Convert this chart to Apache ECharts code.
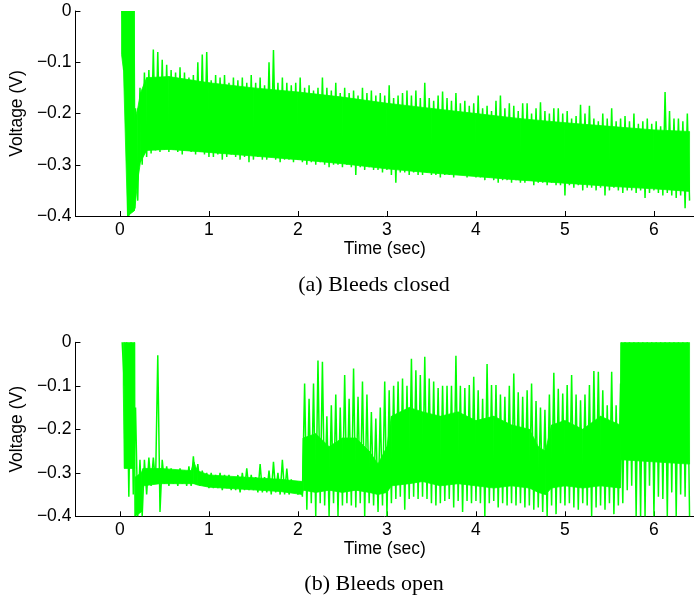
<!DOCTYPE html>
<html><head><meta charset="utf-8">
<script src="https://cdn.jsdelivr.net/npm/echarts@6/dist/echarts.min.js"></script>
<style>html,body{margin:0;padding:0;background:#fff}#c{width:694px;height:601px}</style>
</head><body><div id="c"></div>
<script>
// tick values
const xTicks = [0, 1, 2, 3, 4, 5, 6];
// bins: max/min of the signal read per 0.05 s (start 0.025 s)
const binStart = 0.025, binStep = 0.05;

// (a) Bleeds closed
const hiA = [0, 0, 0, -0.19, -0.15, -0.12, -0.115, -0.075, -0.08, -0.095,
 -0.105, -0.115, -0.12, -0.11, -0.12, -0.13, -0.125, -0.10, -0.085, -0.08,
 -0.135, -0.125, -0.13, -0.125, -0.14, -0.13, -0.135, -0.13, -0.14, -0.125,
 -0.14, -0.13, -0.145, -0.10, -0.076, -0.14, -0.13, -0.14, -0.145, -0.14,
 -0.13, -0.15, -0.145, -0.155, -0.15, -0.13, -0.15, -0.155, -0.14, -0.16,
 -0.15, -0.16, -0.155, -0.165, -0.15, -0.16, -0.155, -0.165, -0.16, -0.165,
 -0.145, -0.17, -0.165, -0.16, -0.155, -0.165, -0.155, -0.17, -0.14, -0.17,
 -0.175, -0.165, -0.157, -0.17, -0.175, -0.16, -0.18, -0.175, -0.185, -0.18,
 -0.165, -0.19, -0.185, -0.195, -0.175, -0.165, -0.19, -0.18, -0.185, -0.195,
 -0.18, -0.18, -0.2, -0.19, -0.178, -0.195, -0.2, -0.19, -0.19, -0.2,
 -0.195, -0.21, -0.205, -0.183, -0.2, -0.185, -0.21, -0.215, -0.2, -0.21,
 -0.19, -0.215, -0.21, -0.205, -0.215, -0.2, -0.22, -0.215, -0.21, -0.22,
 -0.215, -0.225, -0.158, -0.195, -0.21, -0.21, -0.215, -0.2];
const loA = [-0.10, -0.40, -0.39, -0.37, -0.30, -0.285, -0.278, -0.272, -0.275, -0.27,
 -0.275, -0.27, -0.275, -0.28, -0.27, -0.275, -0.28, -0.275, -0.28, -0.285,
 -0.285, -0.28, -0.29, -0.285, -0.28, -0.285, -0.29, -0.285, -0.295, -0.29,
 -0.285, -0.29, -0.29, -0.285, -0.29, -0.295, -0.29, -0.29, -0.295, -0.29,
 -0.295, -0.3, -0.295, -0.3, -0.295, -0.3, -0.305, -0.3, -0.3, -0.305,
 -0.30, -0.305, -0.32, -0.305, -0.31, -0.305, -0.31, -0.31, -0.315, -0.31,
 -0.32, -0.335, -0.315, -0.315, -0.32, -0.315, -0.32, -0.32, -0.315, -0.32,
 -0.32, -0.325, -0.32, -0.32, -0.325, -0.32, -0.32, -0.325, -0.32, -0.325,
 -0.325, -0.33, -0.325, -0.33, -0.335, -0.33, -0.33, -0.335, -0.33, -0.335,
 -0.335, -0.33, -0.34, -0.335, -0.335, -0.34, -0.335, -0.34, -0.34, -0.36,
 -0.34, -0.345, -0.34, -0.35, -0.345, -0.345, -0.35, -0.345, -0.36, -0.35,
 -0.345, -0.35, -0.355, -0.35, -0.35, -0.355, -0.35, -0.365, -0.355, -0.35,
 -0.355, -0.36, -0.355, -0.36, -0.365, -0.36, -0.385, -0.37];
// dense core of (a)
const coreTA = [0.018, 0.04, 0.085, 0.16, 0.168, 0.2, 0.23, 0.3, 0.55, 1.0, 1.5, 2.0, 2.5, 3.0, 3.5, 4.0, 4.5, 5.0, 5.5, 6.0, 6.4];
const coreHiA = [0, 0, 0, 0, -0.21, -0.19, -0.16, -0.13, -0.128, -0.14, -0.15, -0.158, -0.168, -0.18, -0.19, -0.2, -0.21, -0.218, -0.225, -0.232, -0.235];
const coreLoA = [-0.085, -0.116, -0.40, -0.39, -0.385, -0.33, -0.295, -0.272, -0.27, -0.276, -0.283, -0.29, -0.298, -0.308, -0.316, -0.323, -0.33, -0.336, -0.342, -0.347, -0.352];

// (b) Bleeds open
const hiB = [0, 0, 0, -0.15, -0.27, -0.27, -0.265, -0.265, -0.03, -0.27,
 -0.285, -0.29, -0.295, -0.29, -0.295, -0.285, -0.262, -0.28, -0.295, -0.30,
 -0.30, -0.305, -0.30, -0.305, -0.305, -0.31, -0.305, -0.30, -0.29, -0.305,
 -0.31, -0.28, -0.31, -0.295, -0.275, -0.30, -0.27, -0.29, -0.315, -0.32,
 -0.32, -0.095, -0.13, -0.095, -0.042, -0.045, -0.17, -0.145, -0.12, -0.15,
 -0.075, -0.13, -0.06, -0.125, -0.09, -0.12, -0.16, -0.175, -0.15, -0.09,
 -0.11, -0.10, -0.09, -0.083, -0.10, -0.038, -0.064, -0.075, -0.033, -0.083,
 -0.09, -0.105, -0.10, -0.10, -0.10, -0.031, -0.10, -0.105, -0.098, -0.079,
 -0.11, -0.13, -0.05, -0.098, -0.098, -0.12, -0.125, -0.10, -0.072, -0.115,
 -0.125, -0.11, -0.095, -0.135, -0.15, -0.155, -0.12, -0.07, -0.107, -0.118,
 -0.098, -0.075, -0.12, -0.133, -0.12, -0.098, -0.066, -0.068, -0.11, -0.145,
 -0.068, -0.145, -0.095, 0, 0, 0, 0, 0, 0, 0,
 0, 0, 0, 0, 0, 0, 0, 0];
const loB = [-0.10, -0.355, -0.35, -0.40, -0.40, -0.35, -0.33, -0.325, -0.39, -0.325,
 -0.33, -0.325, -0.33, -0.325, -0.33, -0.33, -0.325, -0.33, -0.33, -0.335,
 -0.335, -0.335, -0.34, -0.335, -0.34, -0.34, -0.345, -0.34, -0.34, -0.34,
 -0.345, -0.345, -0.345, -0.35, -0.345, -0.35, -0.35, -0.35, -0.345, -0.35,
 -0.355, -0.385, -0.37, -0.40, -0.37, -0.375, -0.40, -0.37, -0.40, -0.375,
 -0.37, -0.375, -0.38, -0.37, -0.40, -0.37, -0.375, -0.39, -0.375, -0.40,
 -0.37, -0.36, -0.355, -0.385, -0.36, -0.355, -0.36, -0.355, -0.36, -0.37,
 -0.375, -0.37, -0.365, -0.36, -0.38, -0.365, -0.39, -0.365, -0.37, -0.365,
 -0.37, -0.40, -0.37, -0.365, -0.38, -0.37, -0.375, -0.37, -0.375, -0.37,
 -0.38, -0.375, -0.385, -0.38, -0.39, -0.40, -0.375, -0.395, -0.37, -0.375,
 -0.37, -0.38, -0.385, -0.37, -0.375, -0.40, -0.38, -0.375, -0.385, -0.37,
 -0.395, -0.375, -0.37, -0.34, -0.33, -0.40, -0.40, -0.40, -0.33, -0.40,
 -0.355, -0.36, -0.40, -0.345, -0.40, -0.35, -0.355, -0.40];
// dense core of (b)
const coreTB = [0.037, 0.05, 0.165, 0.17, 0.24, 0.26, 0.45, 0.8, 0.83, 0.87,
 1.0, 1.4, 1.8, 2.05, 2.06, 2.2, 2.35, 2.5, 2.65, 2.8,
 2.9, 3.0, 3.05, 3.25, 3.4, 3.6, 3.8, 4.0, 4.2, 4.4,
 4.6, 4.7, 4.78, 4.85, 5.0, 5.2, 5.4, 5.62, 5.63, 6.4];
const coreHiB = [0, 0, 0, -0.31, -0.30, -0.29, -0.29, -0.295, -0.275, -0.295,
 -0.305, -0.31, -0.315, -0.32, -0.22, -0.21, -0.24, -0.22, -0.22, -0.25,
 -0.28, -0.24, -0.17, -0.15, -0.16, -0.17, -0.16, -0.18, -0.17, -0.19,
 -0.20, -0.24, -0.25, -0.19, -0.18, -0.20, -0.17, -0.19, 0, 0];
const coreLoB = [-0.10, -0.29, -0.29, -0.40, -0.39, -0.33, -0.325, -0.325, -0.325, -0.328,
 -0.333, -0.338, -0.343, -0.35, -0.34, -0.345, -0.34, -0.345, -0.34, -0.345,
 -0.35, -0.345, -0.33, -0.325, -0.32, -0.33, -0.325, -0.33, -0.335, -0.33,
 -0.335, -0.345, -0.35, -0.335, -0.33, -0.335, -0.33, -0.335, -0.27, -0.28];

const GREEN = '#00ff00';
const SANS = '"Liberation Sans", Arial, sans-serif';

function zig(hi, lo) {
  const d = [];
  for (let i = 0; i < hi.length; i++) {
    const t = binStart + i * binStep;
    d.push([t, hi[i]]);
    d.push([t + binStep / 2, lo[i]]);
  }
  return d;
}

function bandSeries(idx, t, hi, lo) {
  const data = [];
  for (let i = 0; i < t.length - 1; i++) data.push([t[i], hi[i], lo[i], t[i + 1], hi[i + 1], lo[i + 1]]);
  return {
    type: 'custom', xAxisIndex: idx, yAxisIndex: idx, clip: true, silent: true, z: 2,
    encode: { x: [0, 3], y: [1, 2, 4, 5] },
    renderItem: function (params, api) {
      const pts = [
        api.coord([api.value(0), api.value(1)]),
        api.coord([api.value(3), api.value(4)]),
        api.coord([api.value(3), api.value(5)]),
        api.coord([api.value(0), api.value(2)])
      ];
      return { type: 'polygon', shape: { points: pts }, style: { fill: GREEN, stroke: GREEN, lineWidth: 0.8 } };
    },
    data: data
  };
}

function seriesFor(idx, cT, cHi, cLo, hi, lo) {
  return [
    bandSeries(idx, cT, cHi, cLo),
    { type: 'line', xAxisIndex: idx, yAxisIndex: idx, data: zig(hi, lo), symbol: 'none',
      sampling: null, lineStyle: { color: GREEN, width: 1.5 }, silent: true, z: 3 }
  ];
}

function yFmt(v) {
  if (Math.abs(v) < 1e-9) return '0';
  return '\u2212' + Math.abs(v).toFixed(1);
}

function xAxisFor(idx) {
  return {
    gridIndex: idx, type: 'value', min: -0.5, max: 6.45,
    axisLine: { show: true, onZero: false, lineStyle: { color: '#000', width: 1 } },
    axisTick: { show: true, inside: true, length: 5, customValues: xTicks, lineStyle: { color: '#000' } },
    axisLabel: { customValues: xTicks, margin: 5, fontFamily: SANS, fontSize: 17.5, color: '#000' },
    splitLine: { show: false },
    name: 'Time (sec)', nameLocation: 'middle', nameGap: 24,
    nameTextStyle: { fontFamily: SANS, fontSize: 17.5, color: '#000' }
  };
}
function yAxisFor(idx) {
  return {
    gridIndex: idx, type: 'value', min: -0.4, max: 0, interval: 0.1,
    axisLine: { show: true, onZero: false, lineStyle: { color: '#000', width: 1 } },
    axisTick: { show: true, inside: true, length: 5, lineStyle: { color: '#000' } },
    axisLabel: { margin: 4, fontFamily: SANS, fontSize: 17.5, color: '#000', formatter: yFmt },
    splitLine: { show: false },
    name: 'Voltage (V)', nameLocation: 'middle', nameGap: 40, nameRotate: 90,
    nameTextStyle: { fontFamily: SANS, fontSize: 17.5, color: '#000' }
  };
}

const chart = echarts.init(document.getElementById('c'), null, { renderer: 'canvas' });
chart.setOption({
  animation: false,
  backgroundColor: '#fff',
  grid: [
    { left: 73.5, top: 11, width: 625.5, height: 205 },
    { left: 73.5, top: 342.3, width: 625.5, height: 174 }
  ],
  xAxis: [xAxisFor(0), xAxisFor(1)],
  yAxis: [yAxisFor(0), yAxisFor(1)],
  series: [].concat(
    seriesFor(0, coreTA, coreHiA, coreLoA, hiA, loA),
    seriesFor(1, coreTB, coreHiB, coreLoB, hiB, loB)
  ),
  graphic: [
    { type: 'text', x: 374, y: 285, style: { text: '(a) Bleeds closed', font: '22px "Liberation Serif", serif',
      fill: '#000', align: 'center', verticalAlign: 'middle', textAlign: 'center', textVerticalAlign: 'middle' } },
    { type: 'text', x: 374, y: 584, style: { text: '(b) Bleeds open', font: '22px "Liberation Serif", serif',
      fill: '#000', align: 'center', verticalAlign: 'middle', textAlign: 'center', textVerticalAlign: 'middle' } }
  ]
});
</script>
</body></html>
